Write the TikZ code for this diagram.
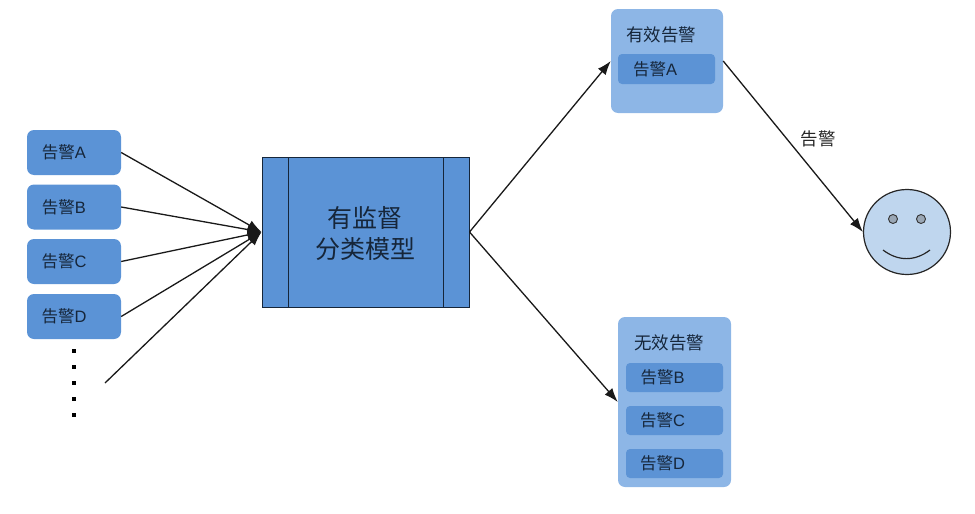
\documentclass[tikz,border=0pt]{standalone}
\usepackage{fontspec}
\setmainfont{Liberation Sans}
\newfontfamily\cjk{Noto Sans CJK SC}
\usetikzlibrary{arrows.meta,shapes.geometric}
\definecolor{boxblue}{HTML}{5B93D6}
\definecolor{outerblue}{HTML}{8DB6E6}
\definecolor{innerblue}{HTML}{5C93D5}
\definecolor{faceblue}{HTML}{BFD6EE}
\definecolor{eyegray}{HTML}{9AA7B5}
\definecolor{inktext}{HTML}{16263A}
\newcommand{\gj}[1]{{\cjk 告警}#1}
\tikzset{
  alertbox/.style={fill=boxblue,draw=none,rounded corners=7pt,minimum width=94pt,minimum height=45pt,inner sep=0pt,text=inktext,font=\fontsize{16.5}{18}\selectfont},
  innerbox/.style={fill=innerblue,draw=none,rounded corners=4pt,minimum width=97pt,minimum height=30pt,inner sep=0pt,text=inktext,font=\fontsize{16.5}{18}\selectfont},
  outerbox/.style={fill=outerblue,draw=none,rounded corners=7pt,inner sep=0pt},
  titletext/.style={text=inktext,font=\fontsize{17.5}{19}\selectfont\cjk,inner sep=0pt},
  arrowline/.style={draw=black!90,line width=1.3pt,-{Latex[length=14pt,width=10pt]}},
  dotmark/.style={fill=black,draw=none,minimum size=4pt,inner sep=0pt},
}
\begin{document}
\begin{tikzpicture}[x=1pt,y=-1pt]
\useasboundingbox (0,0) rectangle (975,514);

% left alerts
\node[alertbox] (a) at (74,152.5) {\hspace*{-20pt}\gj{A}};
\node[alertbox] (b) at (74,207) {\hspace*{-20pt}\gj{B}};
\node[alertbox] (c) at (74,261.5) {\hspace*{-20pt}\gj{C}};
\node[alertbox] (d) at (74,316.5) {\hspace*{-20pt}\gj{D}};
\foreach \n/\yy in {p1/351,p2/367,p3/383,p4/399,p5/415}
  \node[dotmark] (\n) at (74,\yy) {};
\coordinate (more) at (105,383);

% model
\node[fill=boxblue,draw=inktext,line width=1pt,minimum width=207pt,minimum height=150pt,inner sep=0pt] (model) at (365.5,232) {};
\coordinate (lt) at (288,157); \coordinate (lb) at (288,307);
\coordinate (rt) at (443,157); \coordinate (rb) at (443,307);
\draw[draw=inktext,line width=1pt] (lt) -- (lb) (rt) -- (rb);
\node[inner sep=0pt,text=inktext,font=\fontsize{25}{31}\selectfont\cjk,align=center] (modeltext) at (365,234) {有监督\\分类模型};

% valid
\node[outerbox,minimum width=112pt,minimum height=104pt] (valid) at (667,61) {};
\node[titletext] (validt) at (661,35) {有效告警};
\node[innerbox] (va) at (666.5,69) {\hspace*{-23pt}\gj{A}};

% invalid
\node[outerbox,minimum width=113pt,minimum height=170pt] (invalid) at (674.5,402) {};
\node[titletext] (invalidt) at (669,343) {无效告警};
\node[innerbox,minimum height=29pt] (ib) at (674.5,377.5) {\hspace*{-24pt}\gj{B}};
\node[innerbox,minimum height=29pt] (ic) at (674.5,420.5) {\hspace*{-24pt}\gj{C}};
\node[innerbox,minimum height=29pt] (id) at (674.5,463.5) {\hspace*{-24pt}\gj{D}};

% face
\node[ellipse,draw=black!85,fill=faceblue,line width=1.2pt,minimum width=87pt,minimum height=85pt,inner sep=0pt] (face) at (907,232) {};
\node[circle,fill=eyegray,draw=black!80,line width=0.9pt,minimum size=9pt,inner sep=0pt] (eyeL) at (893,219) {};
\node[circle,fill=eyegray,draw=black!80,line width=0.9pt,minimum size=9pt,inner sep=0pt] (eyeR) at (921,219) {};
\coordinate (sl) at (883,250); \coordinate (sr) at (930,250);
\draw[line width=1.2pt,draw=black!85] (sl) .. controls (898,261.5) and (915,261.5) .. (sr);

% connectors
\draw[arrowline] (a.east) -- (model.west);
\draw[arrowline] (b.east) -- (model.west);
\draw[arrowline] (c.east) -- (model.west);
\draw[arrowline] (d.east) -- (model.west);
\draw[arrowline] (more) -- (model.west);
\draw[arrowline] (model.east) -- (valid.west);
\draw[arrowline] (model.east) -- (invalid.west);
\draw[arrowline] (valid.east) -- (face.west);
\node[inner sep=0pt,text=black!85,font=\fontsize{17.5}{19}\selectfont\cjk] (lbl) at (818,139) {告警};
\end{tikzpicture}
\end{document}
